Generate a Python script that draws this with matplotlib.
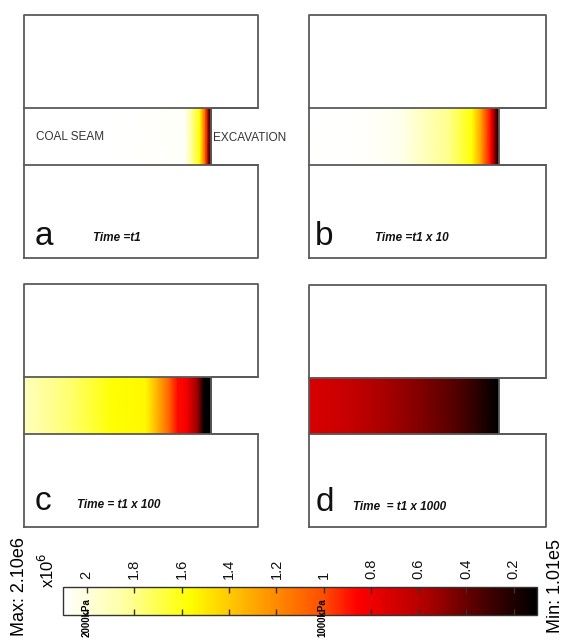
import matplotlib
matplotlib.use("Agg")
import matplotlib.pyplot as plt
from matplotlib.colors import LinearSegmentedColormap, Normalize
from matplotlib.cm import ScalarMappable
from matplotlib.ticker import FuncFormatter

plt.rcParams['font.family'] = ['Liberation Sans', 'DejaVu Sans']

# pressure range (Pa)
p_min = 1.01e5
p_max = 2.10e6

# colour scale nodes (Pa -> colour)
cmap_vals = [0.101e6, 0.30e6, 0.58e6, 0.86e6, 1.00e6, 1.29e6, 1.57e6, 1.85e6, 2.10e6]
cmap_cols = ['#000000', '#400000', '#b30000', '#ff0000', '#ff4d00',
             '#ffa600', '#ffff00', '#ffffa6', '#ffffff']

# pressure along the seam, position = fraction of seam length from left edge (1 = face)
pos_a = [0.0, 0.5, 0.86, 0.90, 0.94, 0.97, 0.985, 1.0]
prs_a = [2.10e6, 2.10e6, 2.08e6, 1.80e6, 1.57e6, 1.00e6, 0.50e6, 0.10e6]

pos_b = [0.0, 0.30, 0.48, 0.74, 0.86, 0.91, 0.96, 0.985, 1.0]
prs_b = [2.10e6, 2.09e6, 2.05e6, 1.80e6, 1.57e6, 1.25e6, 0.86e6, 0.40e6, 0.10e6]

pos_c = [0.0, 0.25, 0.47, 0.65, 0.72, 0.78, 0.82, 0.87, 0.93, 0.96, 1.0]
prs_c = [1.92e6, 1.75e6, 1.57e6, 1.55e6, 1.30e6, 1.05e6, 0.88e6, 0.82e6, 0.50e6, 0.12e6, 0.10e6]

pos_d = [0.0, 0.2, 0.4, 0.6, 0.8, 0.92, 1.0]
prs_d = [0.72e6, 0.66e6, 0.56e6, 0.46e6, 0.33e6, 0.20e6, 0.10e6]

letters = ['a', 'b', 'c', 'd']
times = ['Time =t1', 'Time =t1 x 10', 'Time = t1 x 100', 'Time  = t1 x 1000']
cbar_ticks = [2.0e6, 1.8e6, 1.6e6, 1.4e6, 1.2e6, 1.0e6, 0.8e6, 0.6e6, 0.4e6, 0.2e6]

# geometry (m)
L = 25.0      # block length
face = 20.0   # seam length up to excavation
yb, yt, H = 10.0, 16.0, 26.0

W, Hpx = 573, 641
fig = plt.figure(figsize=(W / 100, Hpx / 100), dpi=100)

lo, hi = cmap_vals[0], cmap_vals[-1]
cmap = LinearSegmentedColormap.from_list(
    'pres', [((v - lo) / (hi - lo), c) for v, c in zip(cmap_vals, cmap_cols)])
norm = Normalize(vmin=p_min, vmax=p_max)


def px_axes(x0, y0, x1, y1):
    return fig.add_axes([x0 / W, 1 - y1 / Hpx, (x1 - x0) / W, (y1 - y0) / Hpx])


def ftext(x, y, s, **kw):
    fig.text(x / W, 1 - y / Hpx, s, **kw)


edge = '#5a5a5a'
panels = [
    (px_axes(24, 15, 258, 258), pos_a, prs_a),
    (px_axes(309, 15, 546, 258), pos_b, prs_b),
    (px_axes(24, 284, 258, 527), pos_c, prs_c),
    (px_axes(309, 285, 546, 527), pos_d, prs_d),
]
for ax, pos, prs in panels:
    xs = [p * face for p in pos]
    ax.pcolormesh(xs, [yb, yt], [prs, prs], cmap=cmap, norm=norm, shading='gouraud')
    ox = [0, L, L, face, face, L, L, 0, 0]
    oy = [0, 0, yb, yb, yt, yt, H, H, 0]
    ax.plot(ox, oy, color=edge, lw=1.3, clip_on=False)
    ax.plot([0, L], [yb, yb], color=edge, lw=1.3, clip_on=False)
    ax.plot([0, L], [yt, yt], color=edge, lw=1.3, clip_on=False)
    ax.set_xlim(0, L)
    ax.set_ylim(0, H)
    ax.axis('off')

# panel labels
lab_xy = [(35, 245), (315, 245), (35, 510), (316, 511)]
time_xy = [(93, 238), (375, 238), (77, 505), (353, 507)]
for s, (x, y) in zip(letters, lab_xy):
    ftext(x, y, s, fontsize=24, va='baseline', ha='left', color='#111111')
for s, (x, y) in zip(times, time_xy):
    ftext(x, y, s, fontsize=8.5, fontweight='bold', fontstyle='italic',
          va='center', ha='left', color='#111111')

ftext(36, 137, 'COAL SEAM', fontsize=8.5, va='center', ha='left', color='#333333')
ftext(213, 138, 'EXCAVATION', fontsize=8.5, va='center', ha='left', color='#333333')

# colour bar
cax = px_axes(63, 587, 537, 615)
sm = ScalarMappable(norm=norm, cmap=cmap)
cb = fig.colorbar(sm, cax=cax, orientation='horizontal')
cax.invert_xaxis()
cb.set_ticks(cbar_ticks)
cax.xaxis.set_major_formatter(FuncFormatter(lambda v, p: '%g' % round(v / 1e6, 1)))
cax.tick_params(axis='x', top=True, bottom=True, labeltop=True, labelbottom=False,
                direction='in', length=4, width=1, colors='#333333',
                labelrotation=90, labelsize=10.5, pad=6)
for lbl in cax.get_xticklabels():
    lbl.set_color('#111111')
cb.outline.set_linewidth(1)
cb.outline.set_edgecolor('#333333')

ftext(47, 570, 'x10$^6$', fontsize=12, rotation=90, ha='center', va='center')
ftext(20, 586, 'Max: 2.10e6', fontsize=13, rotation=90, ha='center', va='center')
ftext(556, 586, 'Min: 1.01e5', fontsize=13, rotation=90, ha='center', va='center')
ftext(87, 598, '2000kPa', fontsize=7, fontweight='bold', rotation=90, ha='center', va='top')
ftext(322, 598, '1000kPa', fontsize=7, fontweight='bold', rotation=90, ha='center', va='top')

fig.savefig('out.png', dpi=100, facecolor='white')
